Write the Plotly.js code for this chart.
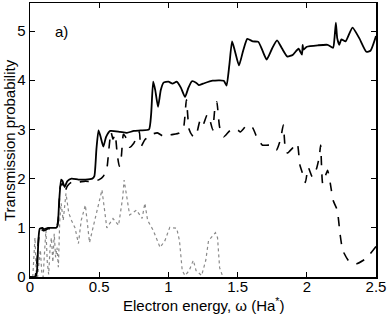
<!DOCTYPE html>
<html><head><meta charset="utf-8">
<script src="https://cdn.plot.ly/plotly-3.0.1.min.js"></script>
<style>body{margin:0;background:#fff}#g{width:391px;height:314px}</style>
</head><body><div id="g"></div>
<script>
const solidX = [0,0.04,0.05,0.06,0.07,0.09,0.1,0.13,0.19,0.2,0.21,0.225,0.235,0.25,0.27,0.3,0.35,0.4,0.45,0.465,0.48,0.495,0.51,0.53,0.55,0.58,0.65,0.7,0.75,0.8,0.86,0.875,0.89,0.905,0.925,0.945,0.965,1.0,1.03,1.06,1.09,1.12,1.145,1.17,1.2,1.22,1.25,1.32,1.4,1.42,1.44,1.46,1.48,1.51,1.54,1.57,1.61,1.65,1.68,1.71,1.75,1.785,1.82,1.86,1.9,1.94,1.965,1.97,1.975,2.0,2.08,2.15,2.19,2.2,2.21,2.22,2.235,2.25,2.28,2.33,2.38,2.43,2.46,2.5];
const solidY = [0,0,0.1,0.7,0.98,1.0,0.97,1.0,1.0,1.05,1.5,1.98,1.95,1.83,1.95,2.0,1.98,1.98,2.0,2.05,2.6,2.98,2.85,2.65,2.85,2.97,2.95,2.93,2.97,2.98,3.0,3.3,3.97,3.8,3.46,3.8,3.95,3.97,3.93,3.97,3.85,3.66,3.85,3.98,3.95,3.9,3.93,3.99,3.99,3.89,4.3,4.79,4.6,4.3,4.6,4.84,4.79,4.78,4.6,4.42,4.65,4.81,4.65,4.48,4.52,4.64,4.52,4.72,4.62,4.68,4.71,4.72,4.66,4.85,5.17,4.85,4.72,4.83,4.79,5.07,4.85,4.58,4.6,4.9];

const dashX = [0,0.035,0.05,0.065,0.08,0.1,0.13,0.19,0.205,0.22,0.235,0.25,0.27,0.3,0.35,0.4,0.45,0.5,0.53,0.555,0.57,0.585,0.6,0.615,0.63,0.645,0.66,0.675,0.69,0.72,0.75,0.79,0.8,0.83,0.88,0.92,0.97,1.02,1.08,1.11,1.13,1.15,1.18,1.2,1.23,1.25,1.28,1.3,1.32,1.335,1.35,1.37,1.4,1.45,1.5,1.52,1.57,1.61,1.64,1.68,1.73,1.78,1.81,1.83,1.845,1.86,1.89,1.93,1.95,1.97,1.99,2.01,2.04,2.07,2.09,2.1,2.115,2.15,2.17,2.19,2.22,2.24,2.26,2.31,2.36,2.43,2.5];
const dashY = [0,0,0.3,0.85,0.97,0.94,0.98,1.0,1.2,1.85,1.9,1.73,1.85,1.93,1.93,1.95,1.93,1.98,2.05,2.2,2.6,2.95,2.8,2.9,2.5,2.25,2.45,2.9,2.85,2.64,2.72,2.95,2.64,2.79,2.9,2.93,2.85,2.89,2.93,3.05,3.6,3.0,2.85,2.88,3.19,3.09,3.3,3.19,2.99,3.4,3.56,3.05,2.85,2.99,2.99,2.95,3.09,3.03,2.83,2.68,2.68,2.58,2.8,3.09,2.6,2.52,2.6,2.72,2.28,2.1,1.92,2.23,2.03,2.2,2.44,2.68,1.9,2.17,1.9,1.56,1.36,0.88,0.54,0.3,0.27,0.38,0.62];

const dotX = [0.02,0.03,0.036,0.045,0.055,0.065,0.075,0.085,0.095,0.105,0.115,0.125,0.135,0.145,0.155,0.165,0.175,0.185,0.195,0.205,0.215,0.225,0.24,0.26,0.28,0.3,0.325,0.35,0.37,0.4,0.43,0.455,0.48,0.52,0.555,0.6,0.64,0.67,0.68,0.7,0.72,0.77,0.81,0.83,0.85,0.89,0.94,0.975,1.01,1.06,1.08,1.1,1.12,1.15,1.18,1.2,1.24,1.27,1.29,1.34,1.355,1.37,1.39,1.4];
const dotY = [0,0.5,0.8,0.1,0.0,0.3,0.55,0.1,0.0,0.5,0.95,0.3,0.05,0.6,0.8,0.3,0.88,0.4,0.6,0.2,1.15,1.5,1.15,1.7,1.3,1.15,1.0,0.68,1.15,1.46,0.7,1.0,1.3,1.77,1.0,1.19,1.05,1.62,1.97,1.56,1.26,1.36,1.19,1.5,1.15,0.95,0.6,0.74,1.01,0.99,0.74,0.13,0.03,0.13,0.34,0.13,0.03,0.34,0.74,0.9,0.8,0.19,0.03,0];

const xTicks = [0,0.5,1,1.5,2,2.5];
const xTickText = ['0','0.5','1','1.5','2','2.5'];
const yTicks = [0,1,2,3,4,5];
const xTitle = 'Electron energy, ω (Ha<sup>*</sup>)';
const yTitle = 'Transmission probability';
const panelLabel = 'a)';

const F = 'Liberation Sans, Arial, sans-serif';
const traces = [
  {x: dotX, y: dotY, mode:'lines', line:{color:'#8a8a8a', width:1.2, dash:'dot'}},
  {x: dashX, y: dashY, mode:'lines', line:{color:'#000', width:1.6, dash:'dash', shape:'spline', smoothing:0.5}},
  {x: solidX, y: solidY, mode:'lines', line:{color:'#000', width:1.8, shape:'spline', smoothing:0.5}}
];
const axisCommon = {showline:true, linecolor:'#000', linewidth:1.5, mirror:'allticks', ticks:'inside', ticklen:5, tickwidth:1, tickcolor:'#000', showgrid:false, zeroline:false, tickfont:{family:F, size:15, color:'#000'}};
const tf = {family:F, size:15, color:'#000'};
const layout = {
  width:391, height:314,
  margin:{l:30, r:15, t:3, b:37},
  paper_bgcolor:'#fff', plot_bgcolor:'#fff',
  showlegend:false,
  xaxis: Object.assign({}, axisCommon, {range:[0,2.5], tickvals:xTicks, ticktext:xTickText, ticklabelstandoff:-5}),
  yaxis: Object.assign({}, axisCommon, {range:[0,5.57], tickvals:yTicks}),
  annotations:[
    {x:0.23, y:5, xref:'x', yref:'y', text:panelLabel, showarrow:false, font:tf},
    {x:0.5, y:0, xref:'paper', yref:'paper', xanchor:'center', yanchor:'bottom', yshift:-38, borderpad:0, text:xTitle, showarrow:false, font:tf},
    {x:0, y:0.5, xref:'paper', yref:'paper', xanchor:'center', yanchor:'middle', xshift:-21, textangle:-90, text:yTitle, showarrow:false, font:tf}
  ]
};
Plotly.newPlot('g', traces, layout, {staticPlot:true, displayModeBar:false});
</script></body></html>
